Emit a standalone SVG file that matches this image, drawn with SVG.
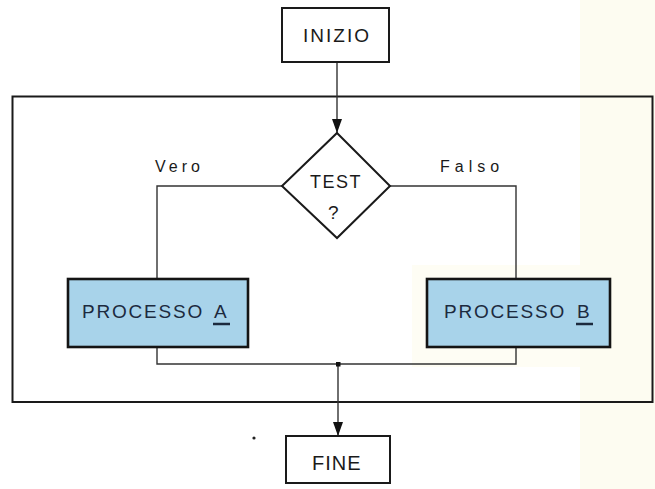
<svg xmlns="http://www.w3.org/2000/svg" width="655" height="489" viewBox="0 0 655 489">
<style>
.t{font-family:"Liberation Sans",Arial,sans-serif;fill:#1a1a1a}
.pt{font-family:"Liberation Sans",Arial,sans-serif;fill:#1c2a3e;font-size:19px;letter-spacing:1.8px}
.box{fill:#fff;stroke:#1a1a1a;stroke-width:2}
.proc{fill:#a8d3ea;stroke:#141414;stroke-width:2.6}
.ln{fill:none;stroke:#333;stroke-width:1.4}
</style>
<defs>
<marker id="arr" viewBox="0 0 14 10" refX="14" refY="5" markerWidth="14" markerHeight="10" markerUnits="userSpaceOnUse" orient="auto">
<path d="M0,0 L14,5 L0,10 Z" fill="#111"/>
</marker>
</defs>
<rect width="655" height="489" fill="#fff"/>
<rect x="580" y="0" width="75" height="489" fill="#fdfcf1"/>
<rect x="412" y="265" width="168" height="102" fill="#fefdf4"/>
<rect id="frame" x="12.5" y="96.5" width="640" height="305.5" fill="none" stroke="#1a1a1a" stroke-width="2"/>
<g id="connectors">
<line class="ln" x1="337" y1="62" x2="337" y2="133" marker-end="url(#arr)"/>
<polyline class="ln" points="282,186 157,186 157,279"/>
<polyline class="ln" points="390,186 516,186 516,279"/>
<polyline class="ln" points="157,347 157,364 516,364 516,347"/>
<line class="ln" x1="338" y1="364" x2="338" y2="436" marker-end="url(#arr)"/>
<rect x="336" y="362" width="4.5" height="4.5" fill="#111"/>
<text class="t" x="155" y="172" font-size="16" letter-spacing="4">Vero</text>
<text class="t" x="440" y="172" font-size="16" letter-spacing="5">Falso</text>
</g>
<g id="inizio">
<rect class="box" x="282" y="8" width="107" height="54"/>
<text class="t" x="303" y="42" font-size="19" letter-spacing="2">INIZIO</text>
</g>
<g id="test">
<polygon points="337,133 390,186 337,238 282,186" fill="#fff" stroke="#1a1a1a" stroke-width="2"/>
<text class="t" x="310" y="188" font-size="18" letter-spacing="1.5">TEST</text>
<text class="t" x="328" y="219" font-size="19">?</text>
</g>
<g id="processoA">
<rect class="proc" x="68" y="279" width="180" height="68"/>
<text class="pt" x="82" y="318">PROCESSO</text>
<text class="pt" x="214" y="318">A</text>
<line x1="213" y1="324" x2="230" y2="324" stroke="#1c2a3e" stroke-width="2.5"/>
</g>
<g id="processoB">
<rect class="proc" x="427" y="279" width="183" height="68"/>
<text class="pt" x="444" y="318">PROCESSO</text>
<text class="pt" x="577" y="318">B</text>
<line x1="576" y1="324" x2="593" y2="324" stroke="#1c2a3e" stroke-width="2.5"/>
</g>
<g id="fine">
<rect class="box" x="286" y="436" width="104" height="47"/>
<text class="t" x="312" y="470" font-size="20" letter-spacing="1">FINE</text>
</g>
<circle cx="254" cy="438" r="1.6" fill="#222"/>
</svg>
